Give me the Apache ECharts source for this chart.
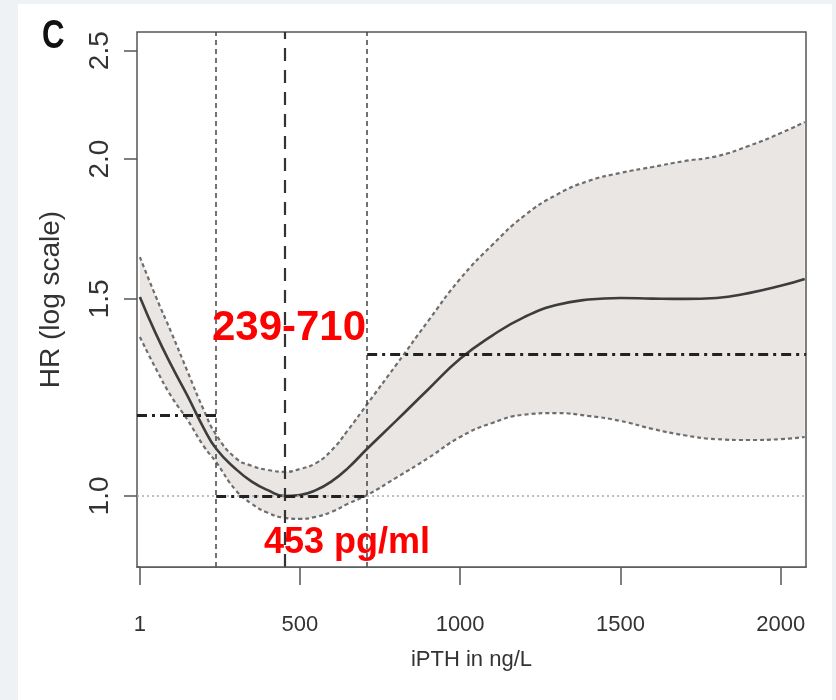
<!DOCTYPE html>
<html>
<head>
<meta charset="utf-8">
<script src="https://cdn.jsdelivr.net/npm/echarts@6/dist/echarts.min.js"></script>
<style>
  html, body { margin: 0; padding: 0; background: #eef2f5; }
  #panel { position: absolute; left: 18px; top: 4px; width: 814px; height: 696px; background: #ffffff; }
  #chart { position: absolute; left: 0; top: 0; width: 836px; height: 700px; }
</style>
</head>
<body>
<div id="panel"></div>
<div id="chart"></div>
<script>
// iPTH (ng/L) grid of the restricted cubic spline
const ipth = [1, 50, 100, 150, 200, 239, 300, 350, 400, 453, 500, 550, 600, 650, 710,
  800, 900, 1000, 1100, 1200, 1300, 1400, 1500, 1600, 1700, 1800, 1900, 2000, 2075];
// hazard ratio estimate
const hr = [1.506, 1.398, 1.307, 1.228, 1.150, 1.102, 1.057, 1.030, 1.012, 1.000, 1.002, 1.012, 1.031, 1.059, 1.102,
  1.167, 1.245, 1.326, 1.391, 1.445, 1.481, 1.498, 1.503, 1.501, 1.500, 1.503, 1.518, 1.541, 1.563];
// 95% confidence limits
const hrUpper = [1.635, 1.509, 1.398, 1.291, 1.194, 1.134, 1.081, 1.064, 1.055, 1.051, 1.057, 1.070, 1.099, 1.145, 1.208,
  1.309, 1.433, 1.563, 1.676, 1.780, 1.858, 1.912, 1.944, 1.968, 1.992, 2.012, 2.055, 2.110, 2.159];
const hrLower = [1.387, 1.301, 1.226, 1.169, 1.108, 1.072, 1.012, 0.984, 0.966, 0.956, 0.954, 0.958, 0.968, 0.984, 1.002,
  1.038, 1.081, 1.129, 1.162, 1.182, 1.186, 1.179, 1.167, 1.148, 1.133, 1.124, 1.122, 1.124, 1.129];

const xTicks = [1, 500, 1000, 1500, 2000];
const yTicks = [1.0, 1.5, 2.0, 2.5];

// optimal range and nadir of the curve
const cutLow = 239, cutHigh = 710, nadir = 453;
// hazard ratio levels marked outside the optimal range
const hrAtLow = 1.181, hrAtHigh = 1.339;

const xMin = -8, xMax = 2079;
const hrMin = 0.864, hrMax = 2.598;

// the HR axis is drawn on a natural-log scale
const ln = Math.log;
const toPts = arr => ipth.map((x, i) => [x, ln(arr[i])]);

const sans = '"Liberation Sans", Arial, Helvetica, sans-serif';

const dotDash = { type: [10, 5, 3, 5], color: '#222', width: 3 };
const ciLine = { color: '#6e6e6e', width: 2.2, type: [4, 3] };
const curveSmooth = 0.5;

const chart = echarts.init(document.getElementById('chart'), null, { renderer: 'canvas' });

chart.setOption({
  animation: false,
  grid: {
    left: 137, right: 30, top: 32, bottom: 133,
    show: true, borderColor: '#555', borderWidth: 1.5, backgroundColor: 'transparent'
  },
  xAxis: {
    type: 'value', min: xMin, max: xMax, z: 10,
    axisLine: { show: true, onZero: false, lineStyle: { color: '#555', width: 1.5 } },
    splitLine: { show: false },
    axisTick: { show: true, customValues: xTicks, length: 18, lineStyle: { color: '#555', width: 1.5 } },
    axisLabel: { customValues: xTicks, margin: 47, formatter: v => String(v),
      fontSize: 22, fontFamily: sans, color: '#333' },
    name: 'iPTH in ng/L', nameLocation: 'middle', nameGap: 82,
    nameTextStyle: { fontSize: 22, fontFamily: sans, color: '#333' }
  },
  yAxis: {
    type: 'value', min: ln(hrMin), max: ln(hrMax), z: 10,
    axisLine: { show: false, onZero: false },
    splitLine: { show: false },
    axisTick: { show: true, customValues: yTicks.map(ln), length: 13, lineStyle: { color: '#555', width: 1.5 } },
    axisLabel: {
      customValues: yTicks.map(ln), rotate: 90, margin: 23,
      formatter: v => Math.exp(v).toFixed(1),
      fontSize: 28, fontFamily: sans, color: '#333'
    },
    name: 'HR (log scale)', nameLocation: 'middle', nameGap: 72, nameRotate: 90,
    nameTextStyle: { fontSize: 28, fontFamily: sans, color: '#333' }
  },
  series: [
    {
      // upper limit: grey fill down to the axis, masked below the lower limit by the next series
      name: 'upper', type: 'line', data: toPts(hrUpper),
      symbol: 'none', smooth: curveSmooth, z: 2,
      lineStyle: ciLine,
      areaStyle: { color: '#e9e6e4', opacity: 1, origin: 'start' }
    },
    {
      name: 'lower', type: 'line', data: toPts(hrLower),
      symbol: 'none', smooth: curveSmooth, z: 2,
      lineStyle: ciLine,
      areaStyle: { color: '#ffffff', opacity: 1, origin: 'start' }
    },
    {
      name: 'HR', type: 'line', data: toPts(hr),
      symbol: 'none', smooth: curveSmooth, z: 4,
      lineStyle: { color: '#3d3d3d', width: 2.6 },
      markLine: {
        silent: true, symbol: ['none', 'none'], label: { show: false },
        data: [
          { yAxis: ln(1), lineStyle: { type: [2, 3], color: '#aaa', width: 1.5 } },
          { xAxis: cutLow, lineStyle: { type: [5, 4], color: '#444', width: 1.5 } },
          { xAxis: cutHigh, lineStyle: { type: [5, 4], color: '#444', width: 1.5 } },
          { xAxis: nadir, lineStyle: { type: [13, 9], color: '#333', width: 2.2 } },
          [{ coord: [xMin, ln(hrAtLow)], lineStyle: dotDash }, { coord: [cutLow, ln(hrAtLow)] }],
          [{ coord: [cutLow, ln(1)], lineStyle: dotDash }, { coord: [cutHigh, ln(1)] }],
          [{ coord: [cutHigh, ln(hrAtHigh)], lineStyle: dotDash }, { coord: [xMax, ln(hrAtHigh)] }]
        ]
      }
    }
  ],
  graphic: [
    {
      type: 'text', x: 42, y: 37, z: 10, scaleX: 0.78,
      style: { text: 'C', fontSize: 40, fontWeight: 'bold', fontFamily: sans, fill: '#111',
        align: 'left', verticalAlign: 'middle' }
    },
    {
      type: 'text', x: 289, y: 328, z: 10,
      style: { text: cutLow + '-' + cutHigh, fontSize: 42, fontWeight: 'bold', fontFamily: sans, fill: '#ff0000',
        align: 'center', verticalAlign: 'middle' }
    },
    {
      type: 'text', x: 347, y: 543, z: 10,
      style: { text: nadir + ' pg/ml', fontSize: 36, fontWeight: 'bold', fontFamily: sans, fill: '#ff0000',
        align: 'center', verticalAlign: 'middle' }
    }
  ]
});
</script>
</body>
</html>
